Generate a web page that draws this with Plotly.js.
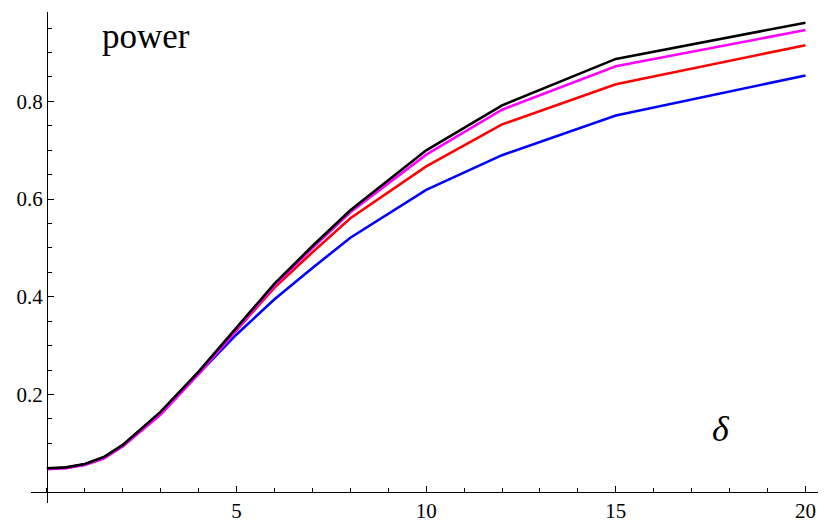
<!DOCTYPE html>
<html>
<head>
<meta charset="utf-8">
<script src="https://cdn.plot.ly/plotly-3.0.1.min.js"></script>
<style>html,body{margin:0;padding:0;background:#fff;}#chart{width:824px;height:525px;}</style>
</head>
<body>
<div id="chart"></div>
<script>
const delta = [0, 0.5, 1, 1.5, 2, 3, 4, 5, 6, 7, 8, 10, 12, 15, 20];
const powerBlack   = [0.049, 0.051, 0.058, 0.072, 0.097, 0.165, 0.247, 0.337, 0.427, 0.504, 0.577, 0.700, 0.792, 0.887, 0.961];
const powerMagenta = [0.047, 0.049, 0.056, 0.069, 0.094, 0.159, 0.242, 0.333, 0.423, 0.500, 0.573, 0.691, 0.783, 0.872, 0.946];
const powerRed     = [0.048, 0.050, 0.057, 0.071, 0.096, 0.163, 0.245, 0.333, 0.419, 0.491, 0.561, 0.667, 0.753, 0.835, 0.915];
const powerBlue    = [0.048, 0.050, 0.057, 0.071, 0.096, 0.163, 0.243, 0.323, 0.395, 0.459, 0.521, 0.619, 0.690, 0.771, 0.853];
const xTicks = [5, 10, 15, 20];
const yTicks = [0.2, 0.4, 0.6, 0.8];

const xRange = [-0.42, 20.33];
const yRange = [-0.022, 0.983];

function tr(y, color) {
  return {x: delta, y: y, type: 'scatter', mode: 'lines', line: {color: color, width: 2.6}, hoverinfo: 'skip'};
}
const data = [tr(powerBlue, '#0000ff'), tr(powerRed, '#ff0000'), tr(powerMagenta, '#ff00ff'), tr(powerBlack, '#000000')];

const font = {family: '"Liberation Serif", "Times New Roman", serif', color: '#000'};
const layout = {
  width: 824, height: 525,
  margin: {l: 31, r: 6, t: 12, b: 22},
  paper_bgcolor: '#fff', plot_bgcolor: '#fff',
  showlegend: false,
  font: font,
  xaxis: {
    range: xRange, showgrid: false, zeroline: false,
    anchor: 'free', position: (0 - yRange[0]) / (yRange[1] - yRange[0]),
    showline: true, linecolor: '#000', linewidth: 1,
    tickmode: 'array', tickvals: xTicks, ticktext: xTicks.map(String),
    ticks: 'inside', ticklen: 6, tickwidth: 1, tickcolor: '#000',
    minor: {ticks: 'inside', dtick: 1, tick0: 0, ticklen: 4, tickwidth: 1, tickcolor: '#000', showgrid: false},
    tickfont: {family: font.family, size: 21, color: '#000'}
  },
  yaxis: {
    range: yRange, showgrid: false, zeroline: false,
    anchor: 'free', position: (0 - xRange[0]) / (xRange[1] - xRange[0]),
    showline: true, linecolor: '#000', linewidth: 1,
    tickmode: 'array', tickvals: yTicks, ticktext: yTicks.map(v => v.toFixed(1)),
    ticks: 'inside', ticklen: 6, tickwidth: 1, tickcolor: '#000',
    minor: {ticks: 'inside', dtick: 0.05, tick0: 0, ticklen: 4, tickwidth: 1, tickcolor: '#000', showgrid: false},
    tickfont: {family: font.family, size: 21, color: '#000'}
  },
  annotations: [
    {x: 2.61, y: 0.933, xref: 'x', yref: 'y', text: 'power', showarrow: false,
     xanchor: 'center', yanchor: 'middle', font: {family: font.family, size: 35, color: '#000'}},
    {x: 17.77, y: 0.13, xref: 'x', yref: 'y', text: '<i>δ</i>', showarrow: false,
     xanchor: 'center', yanchor: 'middle', font: {family: font.family, size: 36, color: '#000'}}
  ]
};
Plotly.newPlot('chart', data, layout, {staticPlot: true, displayModeBar: false});
</script>
</body>
</html>
